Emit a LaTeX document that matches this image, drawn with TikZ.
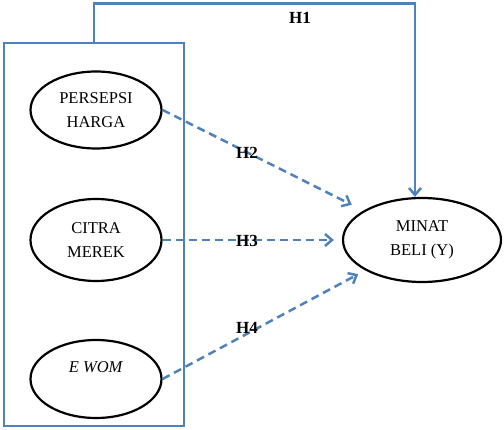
\documentclass[tikz,border=0pt]{standalone}
\usepackage{fontspec}
\setmainfont{Liberation Serif}
\usetikzlibrary{arrows.meta,positioning,shapes.geometric}
\definecolor{Frame}{HTML}{4F81BD}
\definecolor{Ink}{HTML}{000000}

\begin{document}
\begin{tikzpicture}[x=1pt,y=-1pt,>={Straight Barb[length=7pt,width=12pt]},
  var/.style={ellipse,draw=Ink,line width=2.2pt,inner sep=0pt,align=center,font=\fontsize{16.5}{24}\selectfont},
  hyp/.style={font=\fontsize{17}{18}\selectfont\bfseries,inner sep=0pt},
  link/.style={->,Frame,line width=2.5pt,dash pattern=on 8pt off 5pt}]
\useasboundingbox (0,0) rectangle (504,430);
% group of independent variables
\node[draw=Frame,line width=2.5pt,minimum width=180pt,minimum height=383pt,inner sep=0pt] (grp) at (94,234.5) {};
\node[var,minimum width=131pt,minimum height=77pt] (harga) at (96,110) {PERSEPSI\\HARGA};
\node[var,minimum width=131pt,minimum height=82pt] (citra) at (96,240) {CITRA\\MEREK};
\node[var,minimum width=131pt,minimum height=78pt] (ewom) at (96,379) {\textit{E WOM}\\\mbox{}};
\node[var,minimum width=158pt,minimum height=84pt] (minat) at (422,240) {MINAT\\BELI (Y)};
% hypotheses
\draw[->,Frame,line width=2.5pt] (grp.north) -- ++(0,-38) -| ([xshift=-7pt]minat.north);
\draw[link,shorten >=13pt] (harga.east) -- (minat);
\draw[link,shorten >=8pt] (citra.east) -- (minat.west);
\draw[link,shorten >=8pt] (ewom.east) -- (minat);
\node[hyp] (h1) at (300,18) {H1};
\node[hyp] (h2) at (247,153) {H2};
\node[hyp] (h3) at (247,241) {H3};
\node[hyp] (h4) at (247,328) {H4};
\end{tikzpicture}
\end{document}
